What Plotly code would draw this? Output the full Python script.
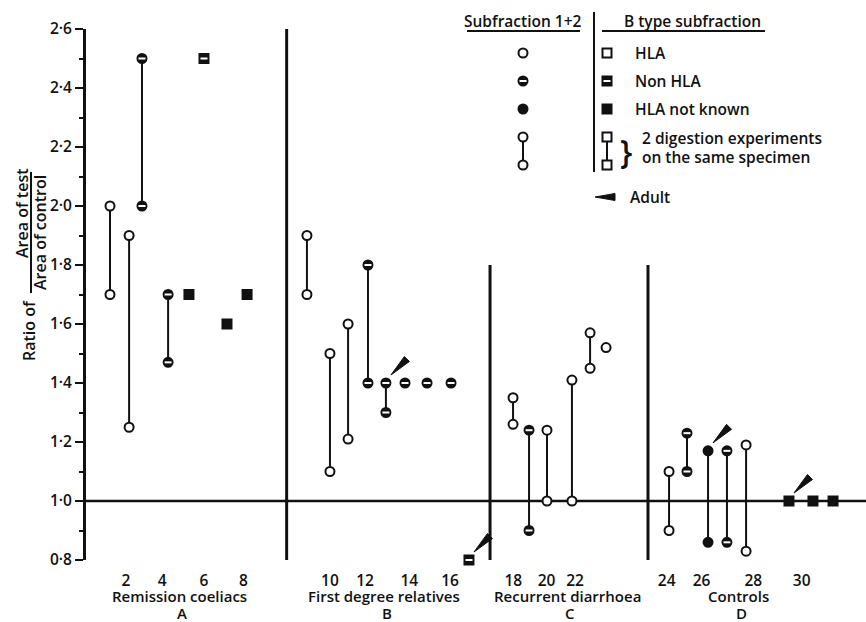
import plotly.graph_objects as go

W, H = 866, 622

# ---------------- data ----------------
patient = list(range(1, 32))
group = ["A"] * 8 + ["B"] * 9 + ["C"] * 6 + ["D"] * 8
# horizontal position of each patient along the (unevenly spaced) x axis
xpos = [1.23, 2.21, 2.87, 4.21, 5.28, 6.05, 7.23, 8.26,
        11.33, 12.51, 13.44, 14.46, 15.38, 16.36, 17.49, 18.72, 19.64,
        21.90, 22.72, 23.64, 24.92, 25.85, 26.67,
        29.90, 30.82, 31.90, 32.87, 33.85, 36.05, 37.28, 38.31]
ratio_1 = [2.00, 1.90, 2.50, 1.70, 1.70, 2.50, 1.60, 1.70,
           1.90, 1.50, 1.60, 1.80, 1.40, 1.40, 1.40, 1.40, 0.80,
           1.35, 1.24, 1.24, 1.41, 1.57, 1.52,
           1.10, 1.23, 1.17, 1.17, 1.19, 1.00, 1.00, 1.00]
ratio_2 = [1.70, 1.25, 2.00, 1.47, None, None, None, None,
           1.70, 1.10, 1.21, 1.40, 1.30, None, None, None, None,
           1.26, 0.90, 1.00, 1.00, 1.45, None,
           0.90, 1.10, 0.86, 0.86, 0.83, None, None, None]
fraction = (["1+2"] * 4 + ["B"] * 4 + ["1+2"] * 8 + ["B"] + ["1+2"] * 6
            + ["1+2"] * 5 + ["B"] * 3)
hla = ["HLA", "HLA", "Non HLA", "Non HLA", "HLA not known", "Non HLA", "HLA not known", "HLA not known",
       "HLA", "HLA", "HLA", "Non HLA", "Non HLA", "Non HLA", "Non HLA", "Non HLA", "Non HLA",
       "HLA", "Non HLA", "HLA", "HLA", "HLA", "HLA",
       "HLA", "Non HLA", "HLA not known", "Non HLA", "HLA", "HLA not known", "HLA not known", "HLA not known"]
adult = ([False] * 12 + [True] + [False] * 3 + [True] + [False] * 6
         + [False, False, True, False, False, True, False, False])

tick_pos = [2.05, 3.91, 6.05, 8.07, 12.51, 14.31, 16.58, 18.67,
            21.91, 23.62, 25.08, 29.78, 31.57, 34.22, 36.70]
tick_text = ["2", "4", "6", "8", "10", "12", "14", "16", "18", "20", "22",
             "24", "26", "28", "30"]
y_ticks = [0.8, 1.0, 1.2, 1.4, 1.6, 1.8, 2.0, 2.2, 2.4, 2.6]
y_tick_text = ["0·8", "1·0", "1·2", "1·4", "1·6", "1·8", "2·0", "2·2", "2·4", "2·6"]
group_names = ["Remission coeliacs", "First degree relatives", "Recurrent diarrhoea", "Controls"]
group_letters = ["A", "B", "C", "D"]
separators = [10.29, 20.72, 28.82]      # x of the vertical group dividers
separator_top = [2.6, 1.8, 1.8]

# ---------------- styling ----------------
FONT = "Open Sans"
FW = 600
FS = 15.5
BLACK = "#111111"
MS = 9       # marker size
MLW = 2      # marker outline width
SYMBOL = {"1+2": "circle", "B": "square"}

fig = go.Figure()

# connectors between the two digestion experiments
cx, cy = [], []
for x, a, b in zip(xpos, ratio_1, ratio_2):
    if b is not None:
        cx += [x, x, None]
        cy += [a, b, None]
fig.add_trace(go.Scatter(x=cx, y=cy, mode="lines", line=dict(color=BLACK, width=2),
                         hoverinfo="skip", showlegend=False))

# markers
for fr in ["1+2", "B"]:
    for kind in ["HLA", "Non HLA", "HLA not known"]:
        xs, ys = [], []
        for x, a, b, f, k in zip(xpos, ratio_1, ratio_2, fraction, hla):
            if f == fr and k == kind:
                xs.append(x); ys.append(a)
                if b is not None:
                    xs.append(x); ys.append(b)
        if not xs:
            continue
        fill = "white" if kind == "HLA" else BLACK
        fig.add_trace(go.Scatter(
            x=xs, y=ys, mode="markers", cliponaxis=False, showlegend=False,
            marker=dict(symbol=SYMBOL[fr], size=MS, color=fill,
                        line=dict(color=BLACK, width=MLW))))
        if kind == "Non HLA":
            fig.add_trace(go.Scatter(
                x=xs, y=ys, mode="markers", cliponaxis=False, showlegend=False,
                marker=dict(symbol="line-ew", size=5, color="white",
                            line=dict(color="white", width=2))))

# ---------------- legend block (pixel-space helper axes) ----------------
LX_C, LX_S = 523, 607
rows = [53, 81, 109]
kinds = ["HLA", "Non HLA", "HLA not known"]
pair_y = [137, 165]
for sym, lx in [("circle", LX_C), ("square", LX_S)]:
    fig.add_trace(go.Scatter(x=[lx, lx], y=pair_y, xaxis="x2", yaxis="y2", mode="lines",
                             line=dict(color=BLACK, width=2), showlegend=False, hoverinfo="skip"))
    for ry, kind in zip(rows + pair_y, kinds + ["HLA", "HLA"]):
        fill = "white" if kind == "HLA" else BLACK
        fig.add_trace(go.Scatter(x=[lx], y=[ry], xaxis="x2", yaxis="y2", mode="markers",
                                 cliponaxis=False, showlegend=False, hoverinfo="skip",
                                 marker=dict(symbol=sym, size=MS, color=fill,
                                             line=dict(color=BLACK, width=MLW))))
        if kind == "Non HLA":
            fig.add_trace(go.Scatter(x=[lx], y=[ry], xaxis="x2", yaxis="y2", mode="markers",
                                     cliponaxis=False, showlegend=False, hoverinfo="skip",
                                     marker=dict(symbol="line-ew", size=5, color="white",
                                                 line=dict(color="white", width=2))))

shapes = []
# reference line at ratio 1.0
shapes.append(dict(type="line", xref="x", yref="y", x0=0, x1=40, y0=1.0, y1=1.0,
                   line=dict(color=BLACK, width=2.5), layer="below"))
for sx, top in zip(separators, separator_top):
    shapes.append(dict(type="line", xref="x", yref="y", x0=sx, x1=sx, y0=0.8, y1=top,
                       line=dict(color=BLACK, width=3), layer="below"))
# adult wedges, anchored at the upper marker of each adult specimen
WEDGE = "M5,8 L18.5,26.5 L23.5,21.5 Z"
for x, a, ad in zip(xpos, ratio_1, adult):
    if ad:
        shapes.append(dict(type="path", xref="x", yref="y", xsizemode="pixel", ysizemode="pixel",
                           xanchor=x, yanchor=a, path=WEDGE, fillcolor=BLACK,
                           line=dict(color=BLACK, width=1)))
# legend graphics
shapes += [
    dict(type="line", xref="x2", yref="y2", x0=467, x1=580, y0=31, y1=31, line=dict(color=BLACK, width=2)),
    dict(type="line", xref="x2", yref="y2", x0=602, x1=765, y0=31, y1=31, line=dict(color=BLACK, width=2)),
    dict(type="line", xref="x2", yref="y2", x0=594, x1=594, y0=12, y1=172, line=dict(color=BLACK, width=2)),
    dict(type="path", xref="x2", yref="y2", xsizemode="pixel", ysizemode="pixel",
         xanchor=595, yanchor=197, path="M0,0 L20,3.5 L20,-3.5 Z", fillcolor=BLACK,
         line=dict(color=BLACK, width=1)),
]


def ann(text, x, y, size=FS, xanchor="center", angle=0):
    return dict(text=text, x=x, y=y, xref="x2", yref="y2", showarrow=False,
                xanchor=xanchor, yanchor="middle", textangle=angle,
                font=dict(family=FONT, size=size, color=BLACK, weight=FW))


annotations = [
    ann("Subfraction 1+2", 523, 21),
    ann("B type subfraction", 692, 21),
    ann("HLA", 633, 53, xanchor="left"),
    ann("Non HLA", 633, 81, xanchor="left"),
    ann("HLA not known", 633, 109, xanchor="left"),
    ann("}", 626, 150, size=32),
    ann("2 digestion experiments", 640, 138, xanchor="left"),
    ann("on the same specimen", 640, 157, xanchor="left"),
    ann("Adult", 628, 197, xanchor="left"),
    ann("Ratio of", 29, 331, angle=-90, size=16),
    ann("Area of test", 22, 213, angle=-90, size=16),
    ann("Area of control", 40, 233, angle=-90, size=16),
]
shapes.append(dict(type="line", xref="x2", yref="y2", x0=31, x1=31, y0=172, y1=293,
                   line=dict(color=BLACK, width=2)))
for name, letter, cxp in zip(group_names, group_letters, [179, 384, 567, 738]):
    annotations.append(ann(name, cxp, 596, size=15))
    annotations.append(ann(letter, cxp + 3, 613, size=15))

TICKFONT = dict(family=FONT, size=FS, color=BLACK, weight=FW)
fig.update_layout(
    width=W, height=H,
    margin=dict(l=0, r=0, t=0, b=0, autoexpand=False),
    paper_bgcolor="white", plot_bgcolor="rgba(0,0,0,0)",
    showlegend=False,
    font=dict(family=FONT, size=FS, color=BLACK),
    xaxis=dict(domain=[86 / W, 1.0], range=[0, 40], showgrid=False, zeroline=False,
               showline=False, tickmode="array", tickvals=tick_pos, ticktext=tick_text,
               ticks="outside", ticklen=6, tickcolor="rgba(0,0,0,0)", automargin=False,
               tickfont=TICKFONT),
    yaxis=dict(domain=[(H - 560) / H, (H - 29) / H], range=[0.8, 2.6], showgrid=False,
               zeroline=False, showline=True, linecolor=BLACK, linewidth=3,
               tickmode="array", tickvals=y_ticks, ticktext=y_tick_text, automargin=False,
               ticks="outside", ticklen=8, tickwidth=2, tickcolor=BLACK,
               minor=dict(dtick=0.1, tick0=0.8, ticks="outside", ticklen=4, tickwidth=2,
                          tickcolor=BLACK, showgrid=False),
               tickfont=TICKFONT),
    xaxis2=dict(domain=[0, 1], range=[0, W], visible=False, anchor="y2", fixedrange=True,
                automargin=False),
    yaxis2=dict(domain=[0, 1], range=[H, 0], visible=False, anchor="x2", fixedrange=True,
                automargin=False),
    shapes=shapes,
    annotations=annotations,
)

fig.write_html("out.html", config={"displayModeBar": False},
               post_script="document.body.style.margin='0';document.body.style.overflow='hidden';")
